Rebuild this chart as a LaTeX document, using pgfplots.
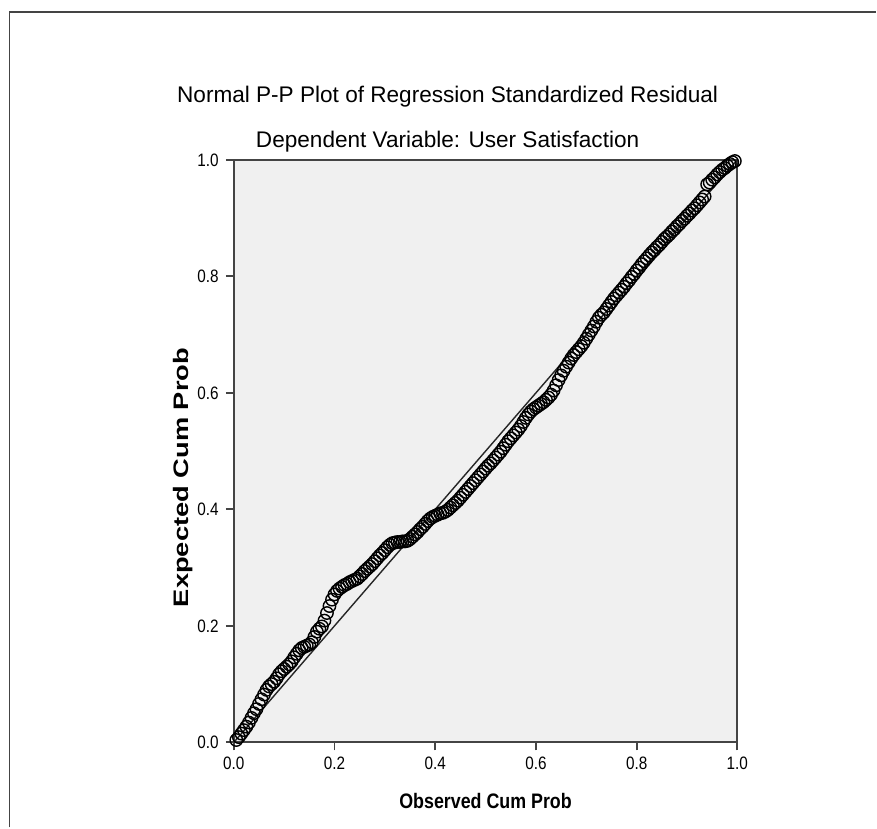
\documentclass[border=0pt]{standalone}
\usepackage{fontspec}
\setmainfont{Liberation Sans}
\newfontfamily\tickfont[FakeStretch=0.85]{Liberation Sans}
\newfontfamily\xlabfont[FakeStretch=0.85]{Liberation Sans}
\newfontfamily\ylabfont[FakeStretch=1.3]{Liberation Sans}
\usepackage{pgfplots}
\pgfplotsset{compat=1.18}
\definecolor{plotbg}{HTML}{F0F0F0}
\definecolor{axgray}{HTML}{444444}

\pgfplotstableread{
x y
0.005 0.004
0.010 0.009
0.015 0.015
0.020 0.021
0.025 0.027
0.030 0.034
0.035 0.042
0.040 0.050
0.045 0.057
0.050 0.066
0.055 0.074
0.060 0.082
0.065 0.090
0.070 0.096
0.075 0.100
0.080 0.104
0.085 0.110
0.090 0.117
0.095 0.122
0.100 0.126
0.105 0.130
0.110 0.134
0.115 0.139
0.120 0.146
0.125 0.152
0.130 0.158
0.135 0.162
0.140 0.164
0.145 0.166
0.150 0.168
0.155 0.172
0.160 0.181
0.165 0.190
0.170 0.195
0.175 0.199
0.180 0.209
0.185 0.222
0.190 0.234
0.195 0.245
0.200 0.254
0.205 0.260
0.210 0.264
0.215 0.267
0.220 0.270
0.225 0.272
0.230 0.275
0.235 0.277
0.240 0.279
0.245 0.281
0.250 0.285
0.255 0.289
0.260 0.294
0.265 0.298
0.270 0.302
0.275 0.306
0.280 0.311
0.285 0.316
0.290 0.321
0.295 0.325
0.300 0.330
0.305 0.335
0.310 0.339
0.315 0.342
0.320 0.343
0.325 0.344
0.330 0.344
0.335 0.345
0.340 0.345
0.345 0.346
0.350 0.349
0.355 0.353
0.360 0.357
0.365 0.361
0.370 0.366
0.375 0.370
0.380 0.375
0.385 0.380
0.390 0.384
0.395 0.387
0.400 0.389
0.405 0.391
0.410 0.393
0.415 0.394
0.420 0.396
0.425 0.399
0.430 0.403
0.435 0.407
0.440 0.411
0.445 0.415
0.450 0.420
0.455 0.425
0.460 0.430
0.465 0.435
0.470 0.440
0.475 0.445
0.480 0.450
0.485 0.455
0.490 0.460
0.495 0.465
0.500 0.470
0.505 0.475
0.510 0.479
0.515 0.484
0.520 0.489
0.525 0.494
0.530 0.499
0.535 0.505
0.540 0.511
0.545 0.517
0.550 0.522
0.555 0.527
0.560 0.532
0.565 0.537
0.570 0.543
0.575 0.550
0.580 0.557
0.585 0.563
0.590 0.568
0.595 0.572
0.600 0.575
0.605 0.578
0.610 0.581
0.615 0.584
0.620 0.588
0.625 0.592
0.630 0.597
0.635 0.604
0.640 0.613
0.645 0.622
0.650 0.630
0.655 0.638
0.660 0.645
0.665 0.652
0.670 0.659
0.675 0.665
0.680 0.670
0.685 0.675
0.690 0.680
0.695 0.686
0.700 0.693
0.705 0.700
0.710 0.707
0.715 0.714
0.720 0.722
0.725 0.729
0.730 0.734
0.735 0.738
0.740 0.744
0.745 0.750
0.750 0.756
0.755 0.762
0.760 0.767
0.765 0.772
0.770 0.777
0.775 0.782
0.780 0.788
0.785 0.793
0.790 0.799
0.795 0.804
0.800 0.810
0.805 0.815
0.810 0.821
0.815 0.826
0.820 0.831
0.825 0.836
0.830 0.841
0.835 0.845
0.840 0.850
0.845 0.854
0.850 0.859
0.855 0.864
0.860 0.868
0.865 0.872
0.870 0.877
0.875 0.881
0.880 0.886
0.885 0.890
0.890 0.895
0.895 0.899
0.900 0.904
0.905 0.908
0.910 0.913
0.915 0.917
0.920 0.922
0.925 0.927
0.930 0.932
0.935 0.937
0.940 0.958
0.945 0.961
0.950 0.966
0.955 0.970
0.960 0.975
0.965 0.979
0.970 0.983
0.975 0.986
0.980 0.990
0.985 0.993
0.990 0.996
0.995 0.998
}\pppoints

\begin{document}
\begin{tikzpicture}
\begin{scope}[x=0.5pt,y=0.5pt]
\fill[white] (0,0) rectangle (877,828);
\draw[axgray, line width=0.75pt] (9.5,0) -- (9.5,816) -- (877,816);
\node[font=\fontsize{11.3}{13}\selectfont] at (448,731) {Normal P-P Plot of Regression Standardized Residual};
\node[font=\fontsize{11.3}{13}\selectfont] at (448,686) {Dependent Variable: User Satisfaction};
\node[font=\xlabfont\bfseries\fontsize{10.5}{12}\selectfont] at (486,26) {Observed Cum Prob};
\node[font=\ylabfont\bfseries\fontsize{10.5}{12}\selectfont, rotate=90] at (183,350) {Expected Cum Prob};
\end{scope}

\begin{axis}[
  at={(117pt,42.5pt)}, anchor=south west,
  width=252pt, height=291.5pt, scale only axis,
  xmin=0, xmax=1, ymin=0, ymax=1,
  axis background/.style={fill=plotbg},
  axis line style={draw=axgray, line width=0.9pt},
  xtick={0,0.2,0.4,0.6,0.8,1}, ytick={0,0.2,0.4,0.6,0.8,1},
  tick align=outside, major tick length=4pt,
  tick style={draw=axgray, line width=0.9pt},
  xtick pos=bottom, ytick pos=left,
  ticklabel style={font=\tickfont\fontsize{9}{10}\selectfont, text=black},
  /pgf/number format/.cd, fixed, fixed zerofill, precision=1, assume math mode=true,
]
\addplot[draw=black!85, line width=0.7pt] coordinates {(0,0) (1,1)};
\addplot[only marks, mark=o, mark size=3.1pt, mark options={draw=black, line width=0.7pt}] table {\pppoints};
\end{axis}
\end{tikzpicture}
\end{document}
